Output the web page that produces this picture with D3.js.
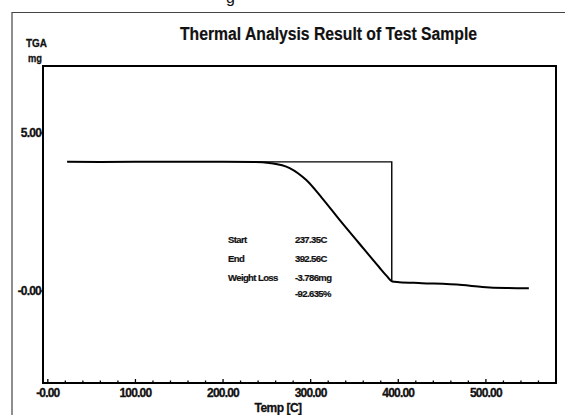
<!DOCTYPE html>
<html><head><meta charset="utf-8">
<script src="https://cdn.jsdelivr.net/npm/d3@7"></script>
<style>
html,body{margin:0;padding:0;background:#fff;}
svg{display:block;}
text{font-family:"Liberation Sans",Arial,sans-serif;fill:#111;}
</style></head>
<body>
<svg id="c" width="565" height="415"></svg>
<script>
// ---- data ----
const temps = [22, 60, 100, 150, 200, 237, 253, 276, 295, 313, 333, 355, 378, 387, 393, 401, 427, 473, 496, 523, 549];
const mass  = [4.09, 4.085, 4.09, 4.087, 4.087, 4.085, 4.05, 3.89, 3.51, 2.94, 2.25, 1.52, 0.76, 0.47, 0.30, 0.28, 0.25, 0.19, 0.13, 0.095, 0.085];
const xTicks = [0, 100, 200, 300, 400, 500];
const xTickLabels = ["-0.00", "100.00", "200.00", "300.00", "400.00", "500.00"];
const yTicks = [0, 5];
const yTickLabels = ["-0.00", "5.00"];
const onset = {start: 237.35, end: 392.56, base: 4.087};
const annLabels = ["Start", "End", "Weight Loss", ""];
const annValues = ["237.35C", "392.56C", "-3.786mg", "-92.635%"];
const title = "Thermal Analysis Result of Test Sample";

const svg = d3.select("#c");
const x = d3.scaleLinear().domain([-5.5, 580]).range([43, 556]);
const y = d3.scaleLinear().domain([-2.91, 7.12]).range([383, 66]);

// outer border (figure frame)
svg.append("path").attr("d", "M12,415.5 V12.5 H566").attr("fill", "none").attr("stroke", "#444").attr("stroke-width", 1.2);

// caption fragment above frame (cut off at the top edge, as in the reference)
svg.append("text").attr("x", 226).attr("y", 3).attr("font-family", "Liberation Serif").attr("font-size", 16).text("g");

function fitText(sel, w) {
  sel.attr("textLength", w).attr("lengthAdjust", "spacingAndGlyphs");
  return sel;
}
const heavy = s => s.attr("stroke", "#111").attr("stroke-width", 0.3);

// title
fitText(svg.append("text").attr("x", 180).attr("y", 40).attr("font-size", 18).attr("font-weight", "bold")
  .attr("stroke", "#111").attr("stroke-width", 0.2).text(title), 297);

// y axis title
heavy(fitText(svg.append("text").attr("x", 26).attr("y", 47).attr("font-size", 11.5).attr("font-weight", "bold").text("TGA"), 21));
heavy(fitText(svg.append("text").attr("x", 28).attr("y", 62).attr("font-size", 11.5).attr("font-weight", "bold").text("mg"), 14));

// frame
const [x0, x1] = x.range(); const [y0, y1] = y.range();
svg.append("rect").attr("x", x0).attr("y", y1).attr("width", x1 - x0).attr("height", y0 - y1)
  .attr("fill", "none").attr("stroke", "#000").attr("stroke-width", 2);

// x ticks (minor inward)
const minor = d3.range(0, 561, 20);
svg.append("g").selectAll("line").data(minor).join("line")
  .attr("x1", d => x(d)).attr("x2", d => x(d))
  .attr("y1", y0).attr("y2", d => y0 - (d % 100 === 0 ? 4 : 2.5))
  .attr("stroke", "#000").attr("stroke-width", 1.3);

svg.append("g").selectAll("text").data(xTicks).join("text")
  .attr("x", d => x(d)).attr("y", 397).attr("text-anchor", "middle")
  .attr("font-size", 12).attr("font-weight", "bold").attr("letter-spacing", -0.8)
  .attr("stroke", "#111").attr("stroke-width", 0.3)
  .text((d, i) => xTickLabels[i]);

heavy(svg.append("text").attr("x", 278).attr("y", 412).attr("text-anchor", "middle")
  .attr("font-size", 12).attr("font-weight", "bold").attr("letter-spacing", -0.5).text("Temp [C]"));

// y ticks
svg.append("g").selectAll("line").data(yTicks).join("line")
  .attr("x1", x0 - 3).attr("x2", x0).attr("y1", d => y(d)).attr("y2", d => y(d))
  .attr("stroke", "#000").attr("stroke-width", 1.3);
svg.append("g").selectAll("text").data(yTicks).join("text")
  .attr("x", x0 - 2).attr("y", d => y(d) + 4).attr("text-anchor", "end")
  .attr("font-size", 12).attr("font-weight", "bold").attr("letter-spacing", -0.8)
  .attr("stroke", "#111").attr("stroke-width", 0.3)
  .text((d, i) => yTickLabels[i]);

// onset construction lines
const endMass = mass[temps.indexOf(393)];
svg.append("path")
  .attr("d", d3.line()([[x(onset.start), y(onset.base)], [x(onset.end), y(onset.base)], [x(onset.end), y(endMass)]]))
  .attr("fill", "none").attr("stroke", "#000").attr("stroke-width", 1.4);

// TGA curve
const pts = temps.map((t, i) => [t, mass[i]]);
svg.append("path").datum(pts)
  .attr("d", d3.line().x(d => x(d[0])).y(d => y(d[1])).curve(d3.curveMonotoneX))
  .attr("fill", "none").attr("stroke", "#000").attr("stroke-width", 2);

// annotation
const rowY = [243, 262, 281, 297];
svg.append("g").selectAll("text").data(annLabels).join("text")
  .attr("x", 228).attr("y", (d, i) => rowY[i]).attr("font-size", 9.5).attr("font-weight", "bold")
  .attr("letter-spacing", -0.6).attr("stroke", "#111").attr("stroke-width", 0.2).text(d => d);
svg.append("g").selectAll("text").data(annValues).join("text")
  .attr("x", 295).attr("y", (d, i) => rowY[i]).attr("font-size", 9.5).attr("font-weight", "bold")
  .attr("letter-spacing", -0.6).attr("stroke", "#111").attr("stroke-width", 0.2).text(d => d);
</script>
</body></html>
